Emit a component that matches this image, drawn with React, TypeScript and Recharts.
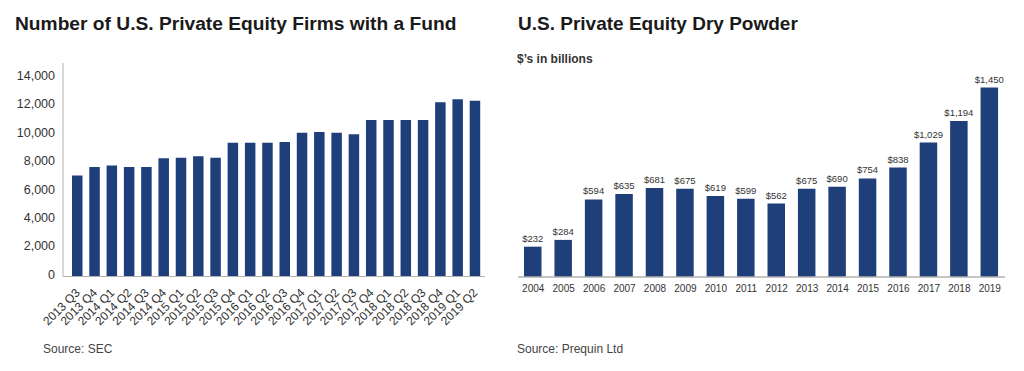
import React from "react";
import { BarChart, Bar, XAxis, YAxis, LabelList } from "recharts";

const FONT = "'Liberation Sans', Arial, Helvetica, sans-serif";
const BAR_COLOR = "#1f3f7b";
const AXIS_COLOR = "#b0b0b0";
const TEXT_COLOR = "#333333";

// Left chart: Number of U.S. Private Equity Firms with a Fund
const quarters = [
  "2013 Q3", "2013 Q4",
  "2014 Q1", "2014 Q2", "2014 Q3", "2014 Q4",
  "2015 Q1", "2015 Q2", "2015 Q3", "2015 Q4",
  "2016 Q1", "2016 Q2", "2016 Q3", "2016 Q4",
  "2017 Q1", "2017 Q2", "2017 Q3", "2017 Q4",
  "2018 Q1", "2018 Q2", "2018 Q3", "2018 Q4",
  "2019 Q1", "2019 Q2",
];
const firmCounts = [
  7100, 7700,
  7800, 7700, 7700, 8300,
  8350, 8450, 8350, 9400,
  9400, 9400, 9450, 10100,
  10150, 10100, 10000, 11000,
  11000, 11000, 11000, 12250,
  12450, 12350,
];
const firmTicks = [0, 2000, 4000, 6000, 8000, 10000, 12000, 14000];

// Right chart: U.S. Private Equity Dry Powder ($ billions)
const years = [
  "2004", "2005", "2006", "2007", "2008", "2009", "2010", "2011",
  "2012", "2013", "2014", "2015", "2016", "2017", "2018", "2019",
];
const dryPowder = [
  232, 284, 594, 635, 681, 675, 619, 599,
  562, 675, 690, 754, 838, 1029, 1194, 1450,
];

const firmData = quarters.map((q, i) => ({ quarter: q, firms: firmCounts[i] }));
const powderData = years.map((y, i) => ({ year: y, powder: dryPowder[i] }));

const fmt = (v: number) => v.toLocaleString("en-US");

const RotatedTick = (props: any) => {
  const { x, y, payload } = props;
  const ax = x + 3;
  const ay = y + 9;
  return (
    <text
      x={ax}
      y={ay}
      transform={`rotate(-45, ${ax}, ${ay})`}
      textAnchor="end"
      fontSize={12}
      fontFamily={FONT}
      fill={TEXT_COLOR}
    >
      {payload.value}
    </text>
  );
};

const textBase: React.CSSProperties = {
  position: "absolute",
  fontFamily: FONT,
  whiteSpace: "nowrap",
  margin: 0,
};

export default function App() {
  return (
    <div
      style={{
        position: "absolute",
        left: 0,
        top: 0,
        width: 1024,
        height: 371,
        background: "#ffffff",
        overflow: "hidden",
        fontFamily: FONT,
      }}
    >
      <div
        style={{
          ...textBase,
          left: 15,
          top: 14,
          fontSize: 19.2,
          lineHeight: "19px",
          fontWeight: 700,
          color: "#1a1a1a",
        }}
      >
        Number of U.S. Private Equity Firms with a Fund
      </div>
      <div
        style={{
          ...textBase,
          left: 518,
          top: 14,
          fontSize: 19,
          lineHeight: "19px",
          fontWeight: 700,
          color: "#1a1a1a",
        }}
      >
        U.S. Private Equity Dry Powder
      </div>
      <div
        style={{
          ...textBase,
          left: 517,
          top: 53,
          fontSize: 12,
          lineHeight: "12px",
          fontWeight: 700,
          color: TEXT_COLOR,
        }}
      >
        $’s in billions
      </div>
      <div
        style={{
          ...textBase,
          left: 43,
          top: 343,
          fontSize: 12,
          lineHeight: "12px",
          color: "#444444",
        }}
      >
        Source: SEC
      </div>
      <div
        style={{
          ...textBase,
          left: 517,
          top: 343,
          fontSize: 12,
          lineHeight: "12px",
          color: "#444444",
        }}
      >
        Source: Prequin Ltd
      </div>

      <div style={{ position: "absolute", left: 0, top: 0 }}>
        <BarChart
          width={500}
          height={371}
          data={firmData}
          margin={{ top: 63, right: 15, left: 0, bottom: 0 }}
        >
          <XAxis
            dataKey="quarter"
            interval={0}
            height={94.5}
            padding={{ left: 6, right: 1 }}
            tickLine={false}
            axisLine={{ stroke: AXIS_COLOR, strokeWidth: 1 }}
            tick={<RotatedTick />}
          />
          <YAxis
            width={63}
            domain={[0, 15000]}
            ticks={firmTicks}
            interval={0}
            tickFormatter={fmt}
            tickLine={false}
            axisLine={{ stroke: AXIS_COLOR, strokeWidth: 1 }}
            tick={{ fontSize: 12.5, fill: TEXT_COLOR, fontFamily: FONT, dy: -2 }}
          />
          <Bar
            dataKey="firms"
            fill={BAR_COLOR}
            barSize={10.5}
            isAnimationActive={false}
          />
        </BarChart>
      </div>

      <div style={{ position: "absolute", left: 508, top: 0 }}>
        <BarChart
          width={516}
          height={371}
          data={powderData}
          margin={{ top: 81, right: 19, left: 10, bottom: 0 }}
        >
          <XAxis
            dataKey="year"
            interval={0}
            height={94}
            tickLine={false}
            axisLine={{ stroke: AXIS_COLOR, strokeWidth: 1.5 }}
            tick={{ fontSize: 10, fill: TEXT_COLOR, fontFamily: FONT }}
          />
          <YAxis hide domain={[0, 1500]} />
          <Bar
            dataKey="powder"
            fill={BAR_COLOR}
            barSize={17.5}
            isAnimationActive={false}
          >
            <LabelList
              dataKey="powder"
              position="top"
              offset={5}
              formatter={(v: any) => `$${fmt(Number(v))}`}
              style={{ fontSize: 9.5, fill: TEXT_COLOR, fontFamily: FONT }}
            />
          </Bar>
        </BarChart>
      </div>
    </div>
  );
}
